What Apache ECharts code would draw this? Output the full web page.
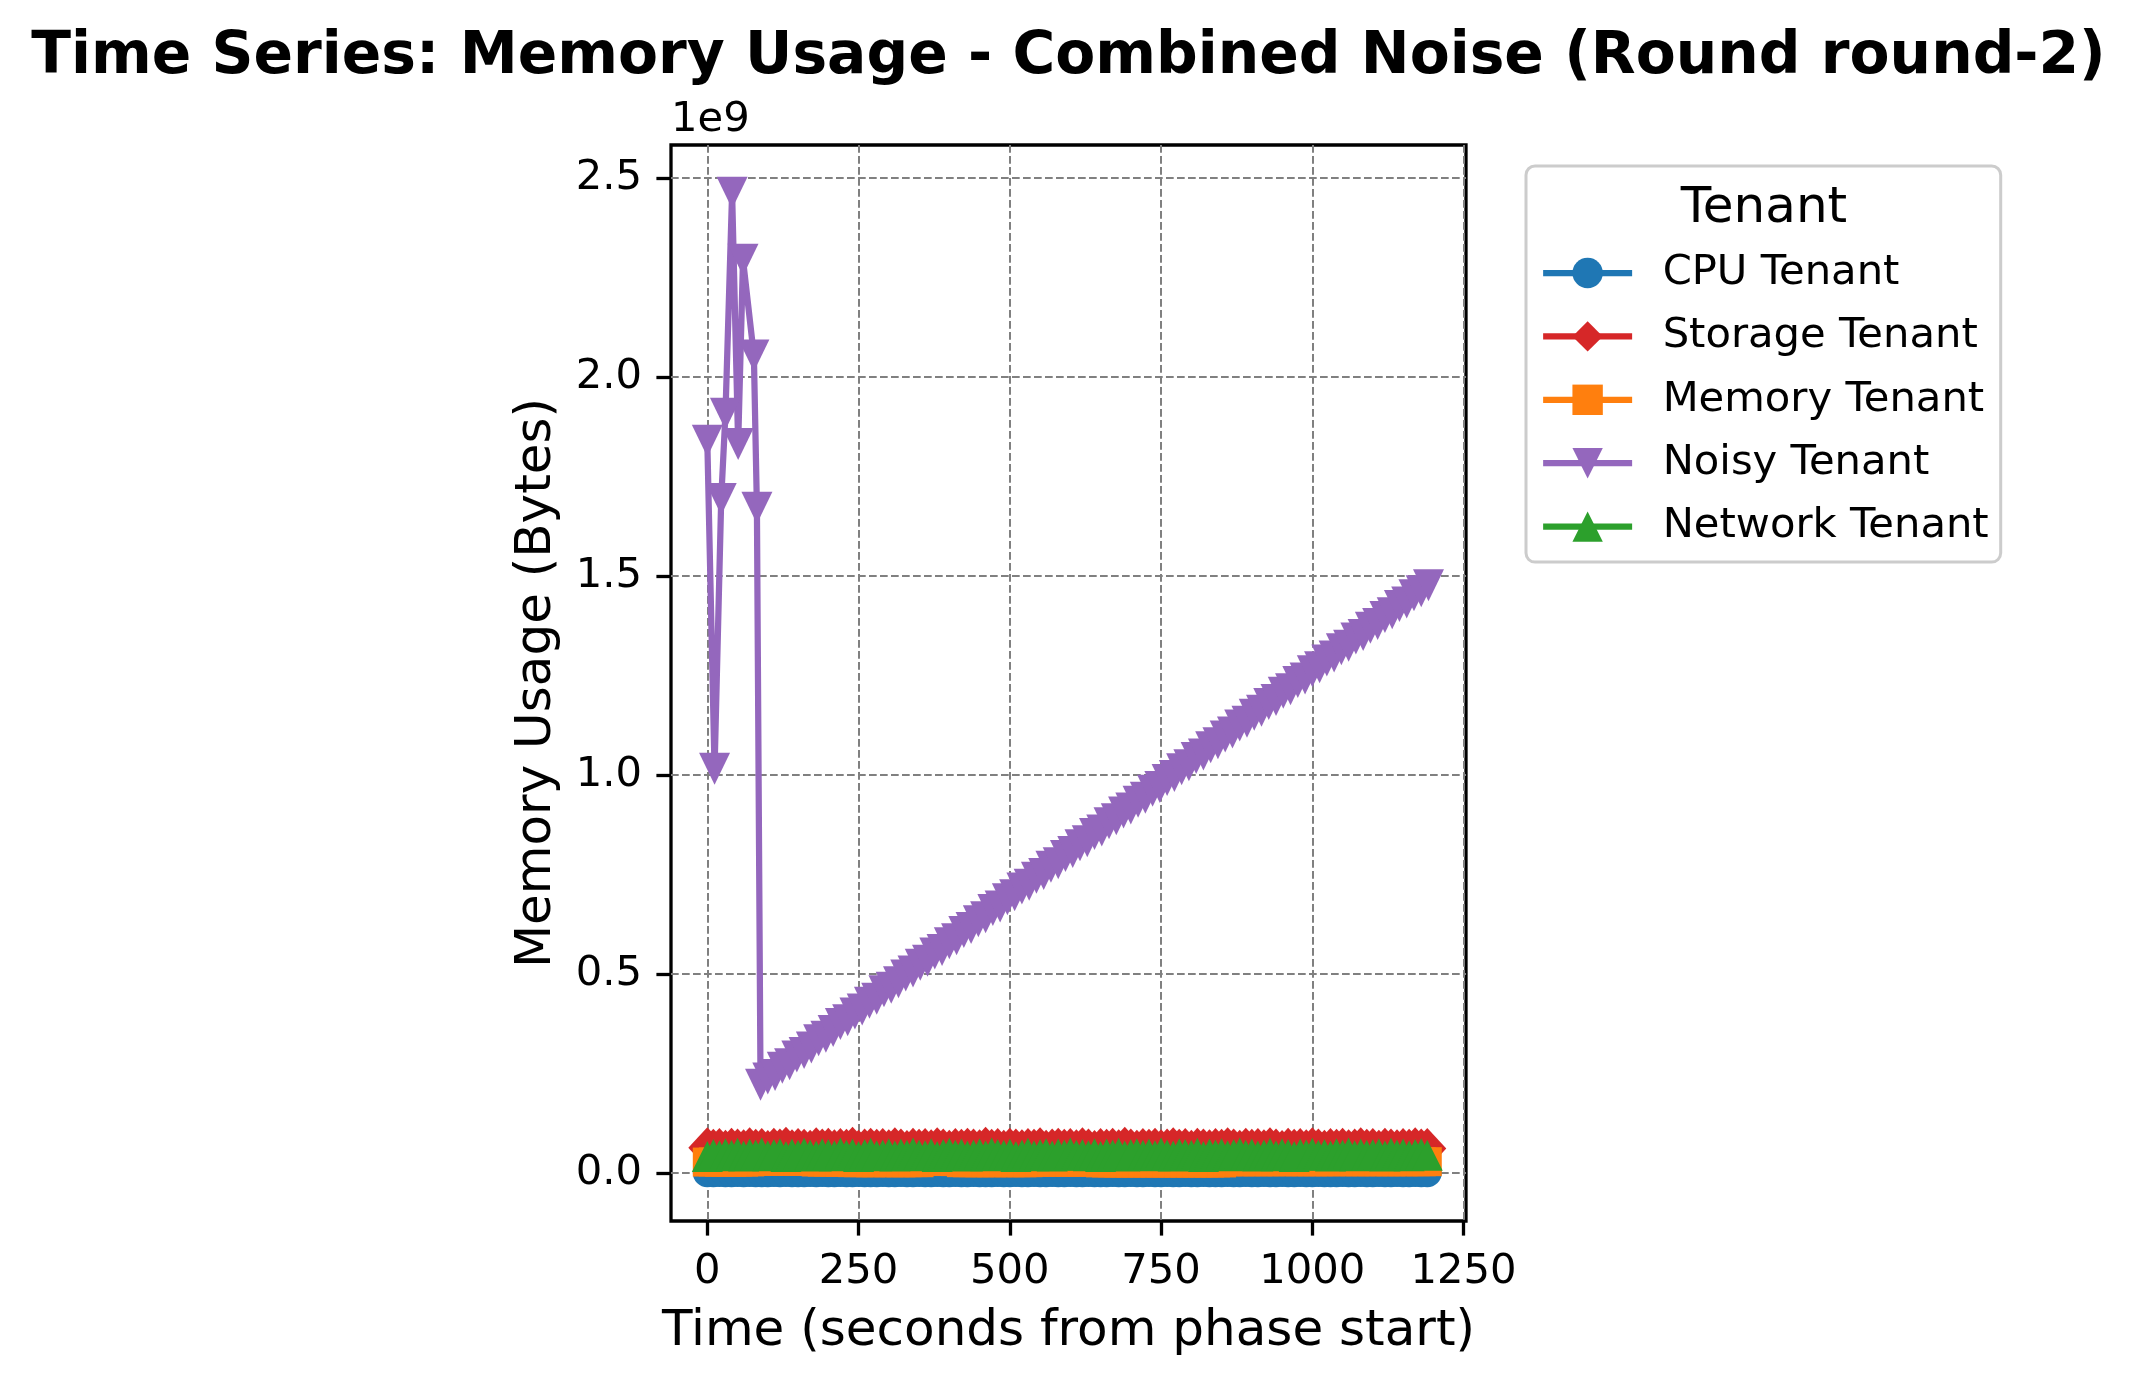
<!DOCTYPE html>
<html><head><meta charset="utf-8">
<script src="https://cdn.jsdelivr.net/npm/echarts@6/dist/echarts.min.js"></script>
<style>html,body{margin:0;padding:0;background:#fff}#c{width:2137px;height:1387px}</style>
</head><body><div id="c"></div><script>
// values are in units of 1e9 bytes (axis offset text "1e9")
const xTicks = [0,250,500,750,1000,1250];
const yTicks = [0,0.5,1.0,1.5,2.0,2.5];
const tenantNames = ['CPU Tenant','Storage Tenant','Memory Tenant','Noisy Tenant','Network Tenant'];

const sharedTime = [
0,10,20,30,40,50,60,70,80,90,
100,110,120,130,140,150,160,170,180,190,
200,210,220,230,240,250,260,270,280,290,
300,310,320,330,340,350,360,370,380,390,
400,410,420,430,440,450,460,470,480,490,
500,510,520,530,540,550,560,570,580,590,
600,610,620,630,640,650,660,670,680,690,
700,710,720,730,740,750,760,770,780,790,
800,810,820,830,840,850,860,870,880,890,
900,910,920,930,940,950,960,970,980,990,
1000,1010,1020,1030,1040,1050,1060,1070,1080,1090,
1100,1110,1120,1130,1140,1150,1160,1170,1180,1190];

const cpuValues = [
0.0015,0.0012,0.0017,0.0014,0.0011,0.0016,0.0013,0.0018,0.0012,0.0015,
0.0014,0.0017,0.0011,0.0016,0.0013,0.0015,0.0012,0.0018,0.0014,0.0016,
0.0013,0.0015,0.0017,0.0012,0.0014,0.0016,0.0011,0.0015,0.0013,0.0017,
0.0014,0.0012,0.0016,0.0015,0.0013,0.0018,0.0012,0.0014,0.0016,0.0013,
0.0015,0.0017,0.0012,0.0014,0.0016,0.0011,0.0015,0.0013,0.0017,0.0014,
0.0012,0.0016,0.0015,0.0013,0.0018,0.0014,0.0012,0.0016,0.0013,0.0015,
0.0017,0.0012,0.0014,0.0016,0.0011,0.0015,0.0013,0.0017,0.0014,0.0012,
0.0016,0.0015,0.0013,0.0018,0.0012,0.0014,0.0016,0.0013,0.0015,0.0017,
0.0012,0.0014,0.0016,0.0011,0.0015,0.0013,0.0017,0.0014,0.0012,0.0016,
0.0015,0.0013,0.0018,0.0012,0.0014,0.0016,0.0013,0.0015,0.0017,0.0012,
0.0014,0.0016,0.0011,0.0015,0.0013,0.0017,0.0014,0.0012,0.0016,0.0015,
0.0013,0.0018,0.0012,0.0014,0.0016,0.0013,0.0015,0.0017,0.0012,0.0014];

const storageValues = [
0.064,0.060,0.062,0.058,0.063,0.061,0.059,0.064,0.060,0.062,
0.057,0.063,0.061,0.065,0.059,0.062,0.060,0.058,0.064,0.061,
0.063,0.059,0.062,0.060,0.065,0.058,0.061,0.063,0.060,0.062,
0.059,0.064,0.061,0.057,0.063,0.060,0.062,0.059,0.064,0.061,
0.058,0.062,0.060,0.063,0.061,0.059,0.065,0.060,0.062,0.058,
0.063,0.061,0.059,0.062,0.060,0.064,0.058,0.061,0.063,0.060,
0.062,0.059,0.064,0.061,0.057,0.062,0.060,0.063,0.059,0.065,
0.061,0.058,0.062,0.060,0.063,0.059,0.061,0.064,0.060,0.062,
0.058,0.063,0.061,0.059,0.062,0.060,0.064,0.061,0.058,0.063,
0.060,0.062,0.059,0.064,0.061,0.057,0.063,0.060,0.062,0.059,
0.064,0.061,0.058,0.062,0.060,0.063,0.059,0.061,0.064,0.060,
0.062,0.058,0.063,0.061,0.059,0.062,0.060,0.064,0.061,0.062];

const memoryValues = [
0.0280,0.0283,0.0278,0.0281,0.0279,0.0282,0.0280,0.0284,
0.0298,0.0301,0.0297,0.0300,0.0302,0.0299,0.0296,0.0301,0.0298,0.0300,
0.0281,0.0279,0.0283,0.0280,0.0278,0.0282,
0.0266,0.0264,0.0267,0.0263,0.0265,0.0268,0.0264,0.0266,0.0262,0.0265,0.0267,0.0264,
0.0294,0.0296,0.0293,0.0297,0.0295,0.0292,
0.0265,0.0263,0.0266,0.0264,0.0267,0.0262,0.0265,0.0268,0.0264,0.0266,0.0263,0.0265,
0.0280,0.0282,0.0279,0.0281,0.0283,0.0278,0.0280,0.0282,0.0279,0.0281,0.0280,
0.0260,0.0258,0.0261,0.0259,0.0262,0.0257,0.0260,0.0263,0.0259,0.0261,0.0258,0.0260,0.0262,0.0259,0.0261,0.0257,0.0260,0.0262,0.0258,0.0261,0.0259,
0.0289,0.0291,0.0288,0.0292,0.0290,0.0287,0.0291,0.0289,0.0293,0.0288,0.0290,0.0292,0.0289,0.0291,0.0287,0.0290,0.0292,0.0288,0.0291,0.0289,0.0293,0.0290,0.0288,0.0291,0.0289,0.0292,0.0290,0.0287,0.0291,0.0289,0.0292,0.0290,0.0288,0.0290];

const networkValues = [
0.042,0.047,0.044,0.049,0.045,0.050,0.043,0.048,0.046,0.051,
0.044,0.047,0.049,0.042,0.048,0.045,0.050,0.046,0.043,0.049,
0.047,0.044,0.051,0.045,0.048,0.042,0.047,0.050,0.044,0.046,
0.049,0.043,0.048,0.045,0.051,0.046,0.044,0.049,0.042,0.047,
0.050,0.045,0.048,0.043,0.046,0.049,0.044,0.051,0.047,0.045,
0.048,0.042,0.046,0.050,0.044,0.047,0.049,0.043,0.048,0.046,
0.051,0.045,0.047,0.044,0.049,0.042,0.048,0.046,0.050,0.043,
0.047,0.049,0.045,0.048,0.044,0.051,0.046,0.043,0.049,0.047,
0.045,0.050,0.042,0.048,0.046,0.049,0.044,0.047,0.051,0.045,
0.048,0.043,0.046,0.050,0.044,0.049,0.047,0.042,0.048,0.046,
0.050,0.045,0.047,0.043,0.049,0.046,0.051,0.044,0.048,0.045,
0.047,0.049,0.043,0.050,0.046,0.048,0.044,0.047,0.049,0.045];

const noisyTime = [
0,12,23,30,41,51,59,77,82,88,
100,112,124,136,148,160,172,184,196,208,
220,232,244,256,268,280,292,304,316,328,
340,352,364,376,388,400,412,424,436,448,
460,472,484,496,508,520,532,544,556,568,
580,592,604,616,628,640,652,664,676,688,
700,712,724,736,748,760,772,784,796,808,
820,832,844,856,868,880,892,904,916,928,
940,952,964,976,988,1000,1012,1024,1036,1048,
1060,1072,1084,1096,1108,1120,1132,1144,1156,1168,
1180,1192];

const noisyValues = [
1.840,1.016,1.694,1.908,2.463,1.832,2.295,2.054,1.672,0.222,
0.238,0.247,0.265,0.274,0.293,0.302,0.316,0.334,0.343,0.357,
0.375,0.384,0.401,0.411,0.428,0.438,0.457,0.466,0.480,0.497,
0.507,0.524,0.534,0.552,0.561,0.578,0.588,0.606,0.616,0.633,
0.643,0.661,0.670,0.688,0.698,0.715,0.725,0.742,0.752,0.770,
0.779,0.797,0.807,0.824,0.834,0.852,0.861,0.879,0.889,0.906,
0.916,0.933,0.943,0.961,0.970,0.988,0.998,1.015,1.025,1.043,
1.052,1.070,1.080,1.097,1.107,1.125,1.134,1.152,1.162,1.179,
1.189,1.207,1.216,1.234,1.243,1.261,1.271,1.288,1.298,1.316,
1.325,1.343,1.352,1.370,1.380,1.397,1.407,1.425,1.434,1.452,
1.462,1.477];

const FONT = "'DejaVu Sans', sans-serif";
const LINE_W = 6.25;
function zip(xs, ys) { const n = Math.min(xs.length, ys.length); const o = []; for (let i = 0; i < n; i++) o.push([xs[i], ys[i]]); return o; }

const seriesDefs = [
  {name: tenantNames[0], color: '#1f77b4', symbol: 'circle', size: 29, rot: 0, x: sharedTime, y: cpuValues},
  {name: tenantNames[1], color: '#d62728', symbol: 'diamond', size: [38, 41], rot: 0, x: sharedTime, y: storageValues},
  {name: tenantNames[2], color: '#ff7f0e', symbol: 'rect', size: 29, rot: 0, x: sharedTime, y: memoryValues},
  {name: tenantNames[3], color: '#9467bd', symbol: 'triangle', size: [31, 32], rot: 180, x: noisyTime, y: noisyValues},
  {name: tenantNames[4], color: '#2ca02c', symbol: 'triangle', size: [31, 31], rot: 0, x: sharedTime, y: networkValues}
];

const chart = echarts.init(document.getElementById('c'), null, {renderer: 'canvas'});
const option = {
  animation: false,
  backgroundColor: '#ffffff',
  color: seriesDefs.map(d => d.color),
  title: {
    text: 'Time Series: Memory Usage - Combined Noise (Round round-2)',
    left: 'center', top: 28.6, padding: 0,
    textStyle: {fontFamily: FONT, fontSize: 58.3, fontWeight: 'bold', color: '#000', lineHeight: 58.3}
  },
  grid: {left: 671, right: 671, top: 145, bottom: 166, show: true, borderColor: '#000', borderWidth: 3.3, backgroundColor: 'transparent', outerBoundsMode: 'none', containLabel: false},
  xAxis: {
    type: 'value', min: -60, max: 1254,
    name: 'Time (seconds from phase start)', nameLocation: 'middle', nameGap: 86,
    nameTextStyle: {fontFamily: FONT, fontSize: 50, color: '#000', lineHeight: 50},
    axisLine: {show: false, onZero: false},
    axisTick: {show: true, length: 14.6, lineStyle: {color: '#000', width: 3.3}, customValues: xTicks},
    axisLabel: {show: true, margin: 30, fontFamily: FONT, fontSize: 41.7, color: '#000', customValues: xTicks, formatter: v => String(Math.round(v))},
    splitLine: {show: true, lineStyle: {color: '#808080', width: 2, type: [7.7, 3.3]}},
    minorTick: {show: false}
  },
  yAxis: {
    type: 'value', min: -0.12, max: 2.583,
    name: 'Memory Usage (Bytes)', nameLocation: 'middle', nameGap: 109, nameRotate: 90,
    nameTextStyle: {fontFamily: FONT, fontSize: 50, color: '#000', lineHeight: 50},
    axisLine: {show: false, onZero: false},
    axisTick: {show: true, length: 14.6, lineStyle: {color: '#000', width: 3.3}, customValues: yTicks},
    axisLabel: {show: true, margin: 29, fontFamily: FONT, fontSize: 41.7, color: '#000', customValues: yTicks, formatter: v => v.toFixed(1)},
    splitLine: {show: true, lineStyle: {color: '#808080', width: 2, type: [7.7, 3.3]}}
  },
  legend: {
    orient: 'vertical', left: 1526, top: 166,
    padding: [86, 12, 14.5, 14],
    itemWidth: 89, itemHeight: 38, itemGap: 21.4,
    selectedMode: false,
    backgroundColor: '#ffffff', borderColor: '#cccccc', borderWidth: 3, borderRadius: 9,
    lineStyle: {width: LINE_W},
    textStyle: {fontFamily: FONT, fontSize: 41.7, color: '#000', lineHeight: 42, padding: [0, 0, 0, 25.5]},
    data: tenantNames
  },
  graphic: [
    {type: 'text', x: 671, y: 120, silent: true, z: 100,
     style: {text: '1e9', fontFamily: FONT, fontSize: 41.7, fill: '#000', align: 'left', verticalAlign: 'middle'}},
    {type: 'text', x: 1764, y: 209, silent: true, z: 100,
     style: {text: 'Tenant', fontFamily: FONT, fontSize: 50, fill: '#000', align: 'center', verticalAlign: 'middle'}}
  ],
  series: seriesDefs.map((d, i) => ({
    type: 'line', name: d.name, z: 2 + i,
    data: zip(d.x, d.y),
    symbol: d.symbol, symbolSize: d.size, symbolRotate: d.rot,
    showSymbol: true, showAllSymbol: true,
    lineStyle: {width: LINE_W, type: 'solid', opacity: 1},
    itemStyle: {color: d.color},
    emphasis: {disabled: true},
    clip: true
  }))
};
chart.setOption(option);
</script></body></html>
